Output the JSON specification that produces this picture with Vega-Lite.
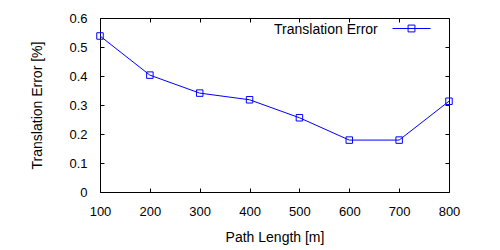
{
  "$schema": "https://vega.github.io/schema/vega-lite/v6.json",
  "width": 349,
  "height": 174,
  "autosize": {"type": "none"},
  "padding": {"left": 100, "top": 18, "right": 51, "bottom": 58},
  "background": "white",
  "config": {
    "view": {"stroke": "black", "strokeWidth": 1},
    "font": "Liberation Sans",
    "axis": {
      "grid": false, "domain": false, "tickColor": "black", "tickSize": -4, "tickWidth": 1,
      "labelColor": "black", "titleColor": "black", "labelFlush": false,
      "labelFont": "Liberation Sans", "titleFont": "Liberation Sans",
      "labelFontSize": 13, "titleFontSize": 14, "titleFontWeight": "normal"
    }
  },
  "data": {"values": [
    {"length": 100, "error": 0.538, "series": "Translation Error"},
    {"length": 200, "error": 0.403, "series": "Translation Error"},
    {"length": 300, "error": 0.341, "series": "Translation Error"},
    {"length": 400, "error": 0.318, "series": "Translation Error"},
    {"length": 500, "error": 0.256, "series": "Translation Error"},
    {"length": 600, "error": 0.179, "series": "Translation Error"},
    {"length": 700, "error": 0.179, "series": "Translation Error"},
    {"length": 800, "error": 0.313, "series": "Translation Error"}
  ]},
  "layer": [
    {
      "mark": {"type": "line", "strokeWidth": 1},
      "encoding": {
        "x": {"field": "length", "type": "quantitative", "scale": {"domain": [100, 800], "nice": false},
              "axis": {"orient": "bottom", "values": [100,200,300,400,500,600,700,800], "title": "Path Length [m]", "labelPadding": 17, "titlePadding": 12}},
        "y": {"field": "error", "type": "quantitative", "scale": {"domain": [0, 0.6], "nice": false, "zero": false},
              "axis": {"orient": "left", "values": [0,0.1,0.2,0.3,0.4,0.5,0.6], "format": "~g", "title": "Translation Error [%]", "labelPadding": 17, "titlePadding": 24}},
        "color": {"field": "series", "type": "nominal", "scale": {"range": ["#0000ff"]},
                  "legend": {"orient": "none", "legendX": 174, "legendY": -9, "title": "Translation Error", "titleOrient": "left",
                             "titleBaseline": "line-top", "titleLineHeight": 18,
                             "titleFontSize": 14, "titleFontWeight": "normal", "titleFont": "Liberation Sans", "titleColor": "black", "titlePadding": 14,
                             "labelExpr": "''", "labelFontSize": 1,
                             "symbolType": "M-1,0H1M-0.18,-0.18H0.18V0.18H-0.18Z", "symbolSize": 1444,
                             "symbolStrokeColor": "#0000ff", "symbolFillColor": "transparent", "symbolStrokeWidth": 1}}
      }
    },
    {
      "mark": {"type": "point", "shape": "square", "filled": false, "color": "#0000ff", "size": 42, "strokeWidth": 1, "opacity": 1},
      "encoding": {
        "x": {"field": "length", "type": "quantitative", "axis": {"orient": "top", "labels": false, "title": null, "values": [100,200,300,400,500,600,700,800]}},
        "y": {"field": "error", "type": "quantitative", "axis": {"orient": "right", "labels": false, "title": null, "values": [0,0.1,0.2,0.3,0.4,0.5,0.6]}}
      }
    }
  ]
}
